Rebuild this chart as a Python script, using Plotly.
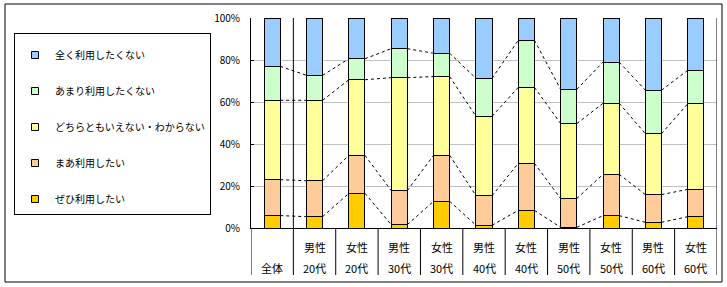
import plotly.graph_objects as go

# ---- data ----
cat_top = ["", "男性", "女性", "男性", "女性", "男性", "女性", "男性", "女性", "男性", "女性"]
cat_bottom = ["全体", "20代", "20代", "30代", "30代", "40代", "40代", "50代", "50代", "60代", "60代"]

series_names = ["ぜひ利用したい", "まあ利用したい", "どちらともいえない・わからない", "あまり利用したくない", "全く利用したくない"]
zehi = [5.9, 5.4, 16.5, 1.6, 12.7, 1.3, 8.4, 0.3, 5.9, 2.7, 5.4]
maa = [17.1, 17.1, 18.1, 16.2, 21.9, 14.1, 22.4, 13.7, 19.7, 13.2, 13.0]
dochira = [37.8, 38.3, 36.0, 53.8, 37.5, 37.8, 36.2, 35.7, 33.8, 29.0, 40.8]
amari = [16.2, 11.9, 10.0, 13.8, 11.1, 18.1, 22.4, 16.3, 19.6, 20.7, 15.9]
mattaku = [23.0, 27.3, 19.4, 14.6, 16.8, 28.7, 10.6, 34.0, 21.0, 34.4, 24.9]
series_values = [zehi, maa, dochira, amari, mattaku]
colors = ["#FFCC00", "#FFCC99", "#FFFF99", "#CCFFCC", "#99CCFF"]

y_ticks = [0, 20, 40, 60, 80, 100]
y_ticktext = ["0%", "20%", "40%", "60%", "80%", "100%"]

# ---- figure ----
W, H = 727, 287
L, R, T, B = 251, 10, 18, 59
pw, ph = W - L - R, H - T - B
n = len(cat_bottom)
xs = list(range(n))
bw = 0.38
JP = "Noto Sans CJK JP"

fig = go.Figure()

# invisible trace carrying the gridline axis (interior gridlines only)
fig.add_trace(go.Scatter(x=[None], y=[None], yaxis="y2", showlegend=False, hoverinfo="skip"))

for name, vals, col in zip(series_names, series_values, colors):
    fig.add_trace(go.Bar(
        x=xs, y=vals, name=name, width=bw,
        marker=dict(color=col, line=dict(color="black", width=1)),
        showlegend=False, hoverinfo="skip",
    ))

# series (connector) lines between bars
cum = [0.0] * n
for k in range(len(series_values) - 1):
    cum = [c + v for c, v in zip(cum, series_values[k])]
    lx, ly = [], []
    for i in range(n - 1):
        lx += [i + bw / 2, i + 1 - bw / 2, None]
        ly += [cum[i], cum[i + 1], None]
    fig.add_trace(go.Scatter(
        x=lx, y=ly, mode="lines",
        line=dict(color="black", width=1, dash="3px,3px"),
        showlegend=False, hoverinfo="skip",
    ))

# legend entries (top to bottom: 全く ... ぜひ)
for idx, (name, col) in enumerate(zip(series_names[::-1], colors[::-1])):
    fig.add_trace(go.Scatter(
        x=[None], y=[None], mode="markers", name=name,
        legendgroup="g%d" % idx,
        marker=dict(symbol="square", size=7, color=col, line=dict(color="black", width=1)),
    ))

# category labels
for i in range(n):
    if cat_top[i]:
        fig.add_annotation(x=i, y=(T + ph - 247) / ph, xref="x", yref="paper",
                           text=cat_top[i], showarrow=False, yanchor="middle",
                           font=dict(family=JP, size=11, color="black"))
    fig.add_annotation(x=i, y=(T + ph - 268) / ph, xref="x", yref="paper",
                       text=cat_bottom[i], showarrow=False, yanchor="middle",
                       font=dict(family=JP, size=11, color="black"))

sep_bottom = (T + ph - 275) / ph
shapes = []
for i in range(n + 1):
    xb = i - 0.5
    top = 0
    if i == 1 or i == n:
        top = 1
    shapes.append(dict(type="line", xref="x", yref="paper", x0=xb, x1=xb,
                       y0=sep_bottom, y1=top, line=dict(color="black", width=1)))
shapes.append(dict(type="rect", xref="paper", yref="paper",
                   x0=(5 - L) / pw, x1=(722 - L) / pw,
                   y0=(T + ph - 282) / ph, y1=(T + ph - 4) / ph,
                   line=dict(color="black", width=1), fillcolor="rgba(0,0,0,0)"))

fig.update_layout(
    width=W, height=H,
    margin=dict(l=L, r=R, t=T, b=B, pad=0, autoexpand=False),
    barmode="stack",
    plot_bgcolor="white", paper_bgcolor="white",
    shapes=shapes,
    showlegend=True,
    legend=dict(
        xref="container", yref="container",
        x=14 / W, y=1 - 33 / H, xanchor="left", yanchor="top",
        bordercolor="black", borderwidth=1, bgcolor="white",
        font=dict(family=JP, size=10, color="black"),
        title=dict(text="\u00a0", font=dict(size=5)),
        traceorder="grouped", tracegroupgap=17, maxheight=260,
    ),
    xaxis=dict(range=[-0.5, n - 0.5], showticklabels=False, showgrid=False,
               zeroline=False, showline=True, linecolor="black", linewidth=1, ticks=""),
    yaxis=dict(range=[0, 100], tickvals=y_ticks, ticktext=y_ticktext,
               showgrid=False,
               zeroline=False, showline=True, linecolor="black", linewidth=1,
               ticks="inside", ticklen=3, tickcolor="black", ticklabelstandoff=8,
               tickfont=dict(family=JP, size=10, color="black")),
    yaxis2=dict(range=[0, 100], overlaying="y", side="right",
                tickvals=y_ticks[1:-1], showticklabels=False, ticks="",
                showgrid=True, gridcolor="#C0C0C0", gridwidth=1,
                zeroline=False, showline=False),
)

fig.write_html("out.html", config={"displayModeBar": False},
               post_script="document.body.style.margin='0';")
